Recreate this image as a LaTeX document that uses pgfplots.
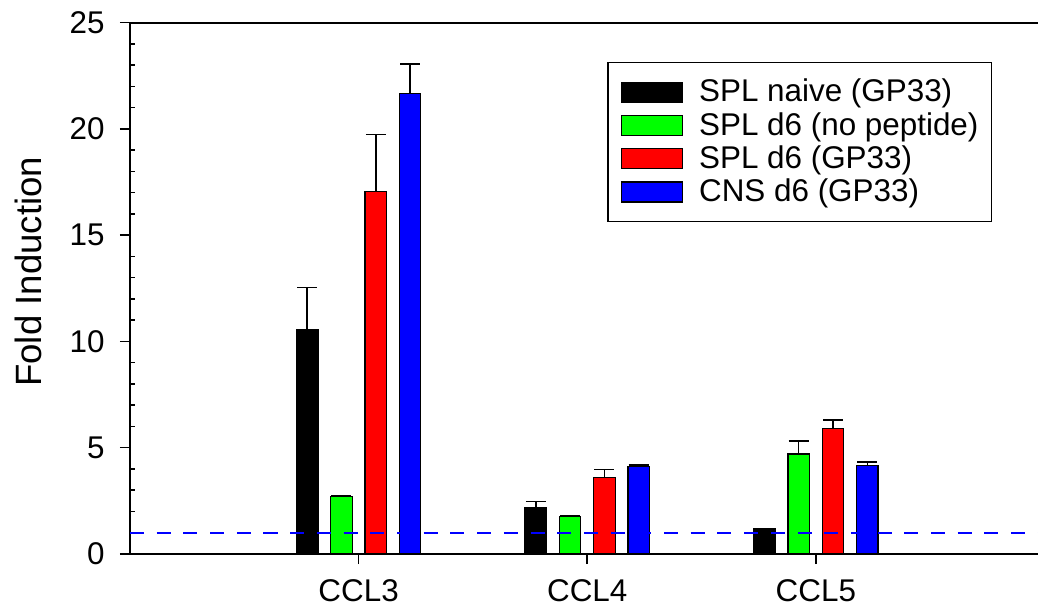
\documentclass[border=0pt]{standalone}
\usepackage{fontspec}
\setmainfont{Liberation Sans}
\usepackage{pgfplots}
\pgfplotsset{compat=1.18}

\begin{document}
\begin{tikzpicture}
\begin{axis}[
  name=ax,
  scale only axis,
  width=454.5pt, height=265.65pt,
  xmin=0, xmax=3.976,
  ymin=0, ymax=25,
  clip=false,
  xtick={1,2,3},
  xticklabels={CCL3,CCL4,CCL5},
  ytick={0,5,...,25},
  minor y tick num=4,
  xtick pos=left, ytick pos=left,
  tick align=outside,
  major tick length=5pt,
  minor tick length=2.5pt,
  minor y tick style={xshift=2.5pt},
  every tick/.style={black, line width=0.75pt},
  separate axis lines=false,
  axis line style={black, line width=1pt},
  /pgf/number format/assume math mode=true,
  tick label style={font=\fontsize{15.7}{18}\selectfont},
  yticklabel style={inner sep=0pt, xshift=-7.5pt},
  xticklabel style={inner sep=0pt, yshift=-7.5pt},
  ylabel={Fold Induction},
  ylabel style={font=\fontsize{18.3}{22}\selectfont, at={([xshift=-50.6pt]axis description cs:0,0.531)}, anchor=center},
  ybar,
  bar width=0.094,
  legend image code/.code={\draw[#1] (0pt,-5pt) rectangle (30.5pt,5pt);},
  legend style={at={(axis description cs:1,1)}, anchor=north east,
    xshift=-23.4pt, yshift=-19.5pt,
    draw=black, line width=0.75pt,
    inner xsep=6.5pt, inner ysep=6.5pt,
    column sep=8pt, row sep=0pt,
    font=\fontsize{15.7}{18}\selectfont,
    nodes={inner sep=0pt, text height=13.2pt, text depth=3.45pt}},
  legend cell align=left,
  error bars/y dir=plus,
  error bars/y explicit,
  error bars/error bar style={black, line width=0.75pt},
  error bars/error mark options={black, line width=0.75pt, mark size=5pt, rotate=90},
]
\addplot[fill=black, draw=black, line width=0.6pt, bar shift=-0.225]
  coordinates {(1,10.54) +- (0,2.01) (2,2.20) +- (0,0.26) (3,1.19) +- (0,0.02)};
\addplot[fill=green, draw=black, line width=0.6pt, bar shift=-0.075]
  coordinates {(1,2.70) +- (0,0.03) (2,1.77) +- (0,0.02) (3,4.71) +- (0,0.60)};
\addplot[fill=red, draw=black, line width=0.6pt, bar shift=0.075]
  coordinates {(1,17.05) +- (0,2.68) (2,3.59) +- (0,0.38) (3,5.91) +- (0,0.40)};
\addplot[fill=blue, draw=black, line width=0.6pt, bar shift=0.225]
  coordinates {(1,21.68) +- (0,1.38) (2,4.13) +- (0,0.05) (3,4.16) +- (0,0.17)};
\addplot[sharp plot, forget plot, blue, line width=1pt, dash pattern=on 7pt off 6.35pt, no markers, error bars/y dir=none]
  coordinates {(0,1) (3.976,1)};
\legend{SPL naive (GP33), SPL d6 (no peptide), SPL d6 (GP33), CNS d6 (GP33)}
\end{axis}
\pgfresetboundingbox
\useasboundingbox ([xshift=-65pt,yshift=-28.5pt]ax.south west) rectangle ([xshift=-0.5pt,yshift=11.35pt]ax.north east);
\end{tikzpicture}
\end{document}
